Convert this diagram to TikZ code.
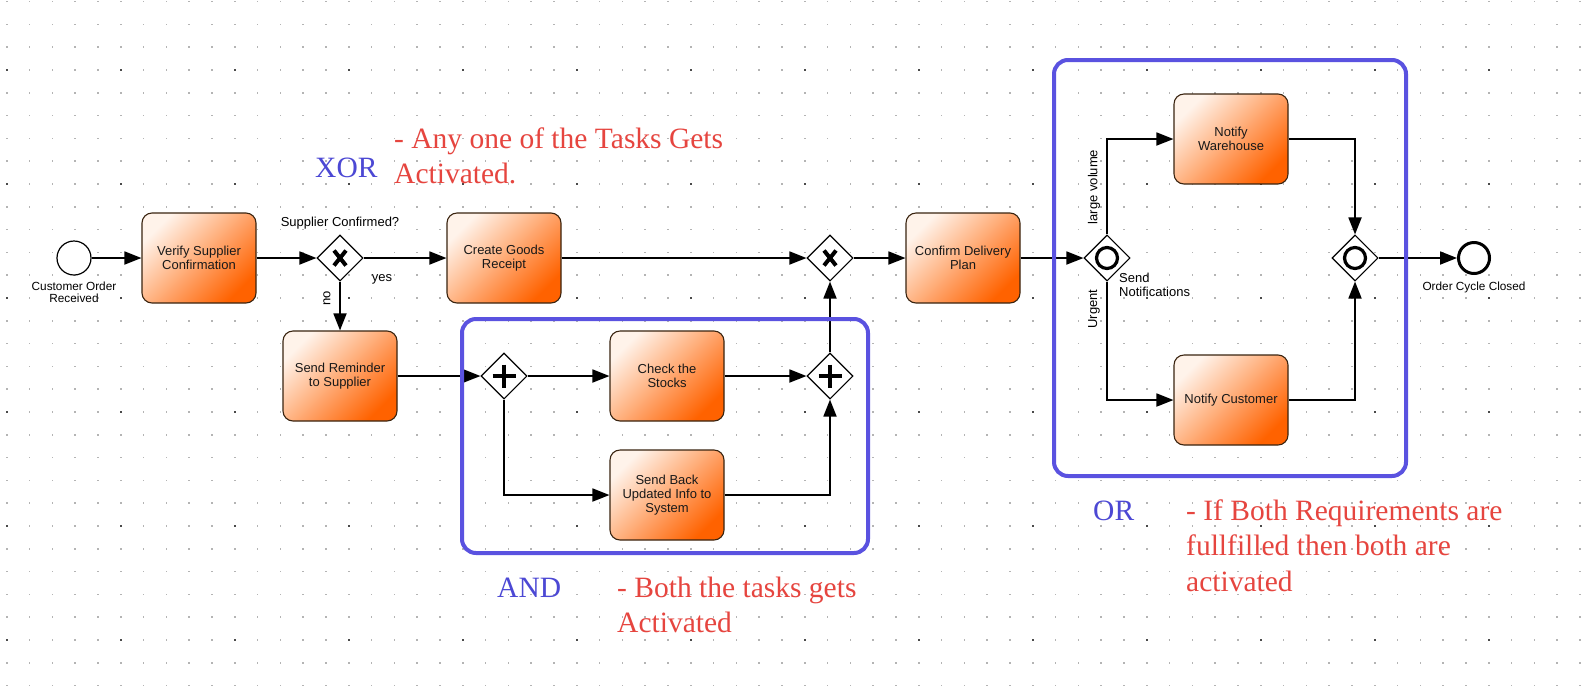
\documentclass[tikz,border=0pt]{standalone}
\usepackage{fontspec}
\setmainfont{Liberation Sans}
\newfontfamily\annfont{Liberation Serif}
\usetikzlibrary{shapes.geometric,arrows.meta}
\definecolor{gridlight}{HTML}{B4B4B4}
\definecolor{griddark}{HTML}{4A4A4A}
\definecolor{grpblue}{HTML}{5A52E0}
\definecolor{annblue}{HTML}{4C48D4}
\definecolor{annred}{HTML}{E6453F}
\definecolor{tasklight}{HTML}{FFF3EA}
\definecolor{taskmid}{HTML}{FF8A3C}
\definecolor{taskdark}{HTML}{FF6200}
\definecolor{taskedge}{HTML}{3A2410}
\begin{document}
\begin{tikzpicture}[x=1pt,y=-1pt,
  taskbox/.style={rectangle, rounded corners=10pt, draw=taskedge, line width=1.1pt, minimum width=114pt, minimum height=90pt, inner sep=2pt, align=center, text=black!90, font=\fontsize{13}{14}\selectfont, top color=tasklight, middle color=taskmid, bottom color=taskdark, shading angle=45},
  gw/.style={diamond, aspect=1, draw=black, line width=1.1pt, fill=white, minimum width=46pt, minimum height=46pt, inner sep=0pt},
  gwmark/.style={line width=4pt, black},
  flow/.style={line width=1.8pt, -{Triangle[length=17pt,width=13pt]}},
  lbl/.style={font=\fontsize{13}{14}\selectfont, inner sep=0pt},
  evlbl/.style={font=\fontsize{11.8}{12.5}\selectfont, inner sep=0pt, align=center},
  grp/.style={draw=grpblue, line width=4pt, rounded corners=14pt, inner sep=0pt},
  ann/.style={font=\annfont\fontsize{29.5}{35.5}\selectfont, inner sep=0pt, anchor=base west}
]
\useasboundingbox (0,0) rectangle (1581,689);
\fill[white] (0,0) rectangle (1581,689);
% dot grid
\foreach \i in {0,...,69}{\foreach \j in {0,...,30}{\fill[gridlight] ({6.7+22.8*\i-0.8},{1.6+22.8*\j-0.8}) rectangle ++(1.6,1.6);}}
\foreach \i in {0,...,13}{\foreach \j in {0,...,5}{\fill[griddark] ({6.7+114*\i-1},{70+114*\j-1}) rectangle ++(2,2);}}

% events
\node[circle, draw, line width=1.2pt, fill=white, minimum size=34pt, inner sep=0pt] (start) at (74,258) {};
\node[circle, draw, line width=3pt, fill=white, minimum size=31pt, inner sep=0pt] (finish) at (1474,258) {};
\node[evlbl, anchor=north] (startlbl) at (74,281.5) {Customer Order\\Received};
\node[evlbl, anchor=base] (endlbl) at (1474,290) {Order Cycle Closed};

% tasks
\node[taskbox] (verify) at (199,258) {Verify Supplier\\Confirmation};
\node[taskbox] (create) at (504,258) {Create Goods\\Receipt};
\node[taskbox] (reminder) at (340,376) {Send Reminder\\to Supplier};
\node[taskbox] (check) at (667,376) {Check the\\Stocks};
\node[taskbox] (sendback) at (667,495) {Send Back\\Updated Info to\\System};
\node[taskbox] (confirm) at (963,258) {Confirm Delivery\\Plan};
\node[taskbox] (warehouse) at (1231,139) {Notify\\Warehouse};
\node[taskbox] (customer) at (1231,400) {Notify Customer};

% gateways
\node[gw] (xa) at (340,258) {};
\node[gw] (pa) at (504,376) {};
\node[gw] (pb) at (830,376) {};
\node[gw] (xb) at (830,258) {};
\node[gw] (oa) at (1107,258) {};
\node[gw] (ob) at (1355,258) {};
\foreach \g in {xa,xb}{
  \draw[gwmark] ([shift={(-6,-7.5)}]\g.center) -- ([shift={(6,7.5)}]\g.center);
  \draw[gwmark] ([shift={(-6,7.5)}]\g.center) -- ([shift={(6,-7.5)}]\g.center);}
\foreach \g in {pa,pb}{
  \draw[gwmark, line width=3.6pt] ([shift={(-11.5,0)}]\g.center) -- ([shift={(11.5,0)}]\g.center);
  \draw[gwmark, line width=3.6pt] ([shift={(0,-11.5)}]\g.center) -- ([shift={(0,11.5)}]\g.center);}
\foreach \g in {oa,ob}{
  \draw[line width=3.2pt] (\g.center) circle[radius=10.5];}

% flow labels
\node[lbl, anchor=base] (q1) at (340,226) {Supplier Confirmed?};
\node[lbl, anchor=base] (yeslbl) at (382,281) {yes};
\node[lbl, rotate=90] (nolbl) at (327,298) {no};
\node[lbl, rotate=90] (largelbl) at (1094,187) {large volume};
\node[lbl, rotate=90] (urgentlbl) at (1094,309) {Urgent};
\node[lbl, anchor=base west] (sendlbl) at (1119,282) {\parbox[t]{100pt}{Send\\Notifications}};

% connectors
\draw[flow] (start) -- (verify);
\draw[flow] (verify) -- (xa);
\draw[flow] (xa) -- (create);
\draw[flow] (xa) -- (reminder);
\draw[flow] (reminder) -- (pa);
\draw[flow] (pa) -- (check);
\draw[flow] (pa.south) |- (sendback.west);
\draw[flow] (check) -- (pb);
\draw[flow] (sendback.east) -| (pb.south);
\draw[flow] (pb) -- (xb);
\draw[flow] (create) -- (xb);
\draw[flow] (xb) -- (confirm);
\draw[flow] (confirm) -- (oa);
\draw[flow] (oa.north) |- (warehouse.west);
\draw[flow] (oa.south) |- (customer.west);
\draw[flow] (warehouse.east) -| (ob.north);
\draw[flow] (customer.east) -| (ob.south);
\draw[flow] (ob) -- (finish);

% groups
\node[grp, minimum width=406pt, minimum height=234pt] (andgrp) at (665,436) {};
\node[grp, minimum width=352pt, minimum height=416pt] (orgrp) at (1230,268) {};

% annotations
\node[ann, text=annblue] (xorlbl) at (315,177) {XOR};
\node[ann, text=annred] (xornote) at (394,148) {\parbox[t]{380pt}{- Any one of the Tasks Gets\\Activated.}};
\node[ann, text=annblue] (andlbl) at (497,597) {AND};
\node[ann, text=annred] (andnote) at (617,597) {\parbox[t]{380pt}{- Both the tasks gets\\Activated}};
\node[ann, text=annblue] (orlbl) at (1093,520) {OR};
\node[ann, text=annred] (ornote) at (1186,520) {\parbox[t]{380pt}{- If Both Requirements are\\fullfilled then both are\\activated}};
\end{tikzpicture}
\end{document}
